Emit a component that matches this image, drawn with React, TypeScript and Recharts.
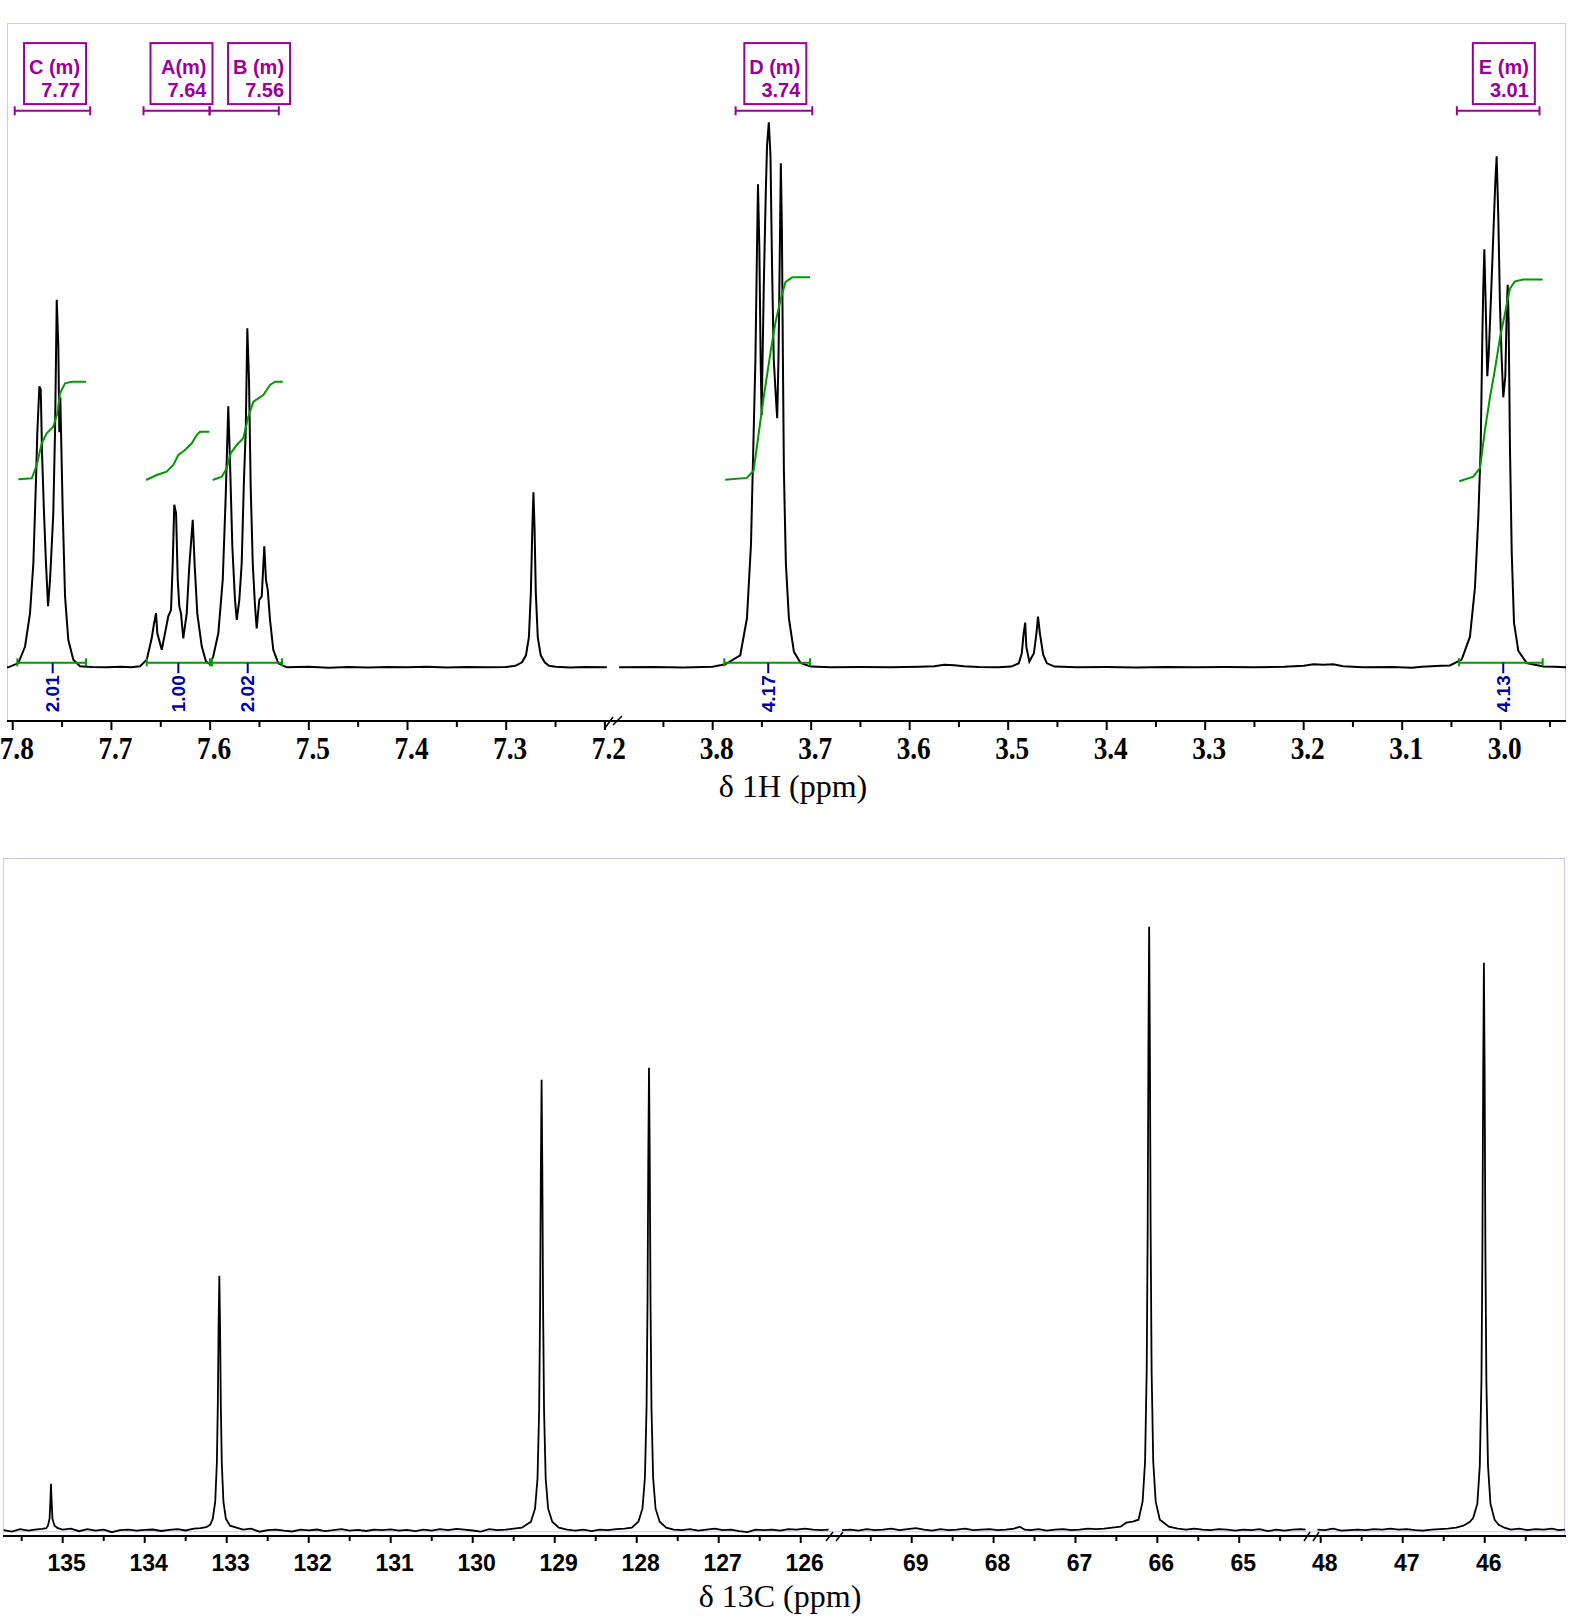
import React from "react";
import {
  LineChart,
  Line,
  XAxis,
  YAxis,
  ReferenceLine,
  ReferenceDot,
} from "recharts";

type Pt = [number, number];

// ---------- 1H spectrum (ppm, intensity a.u.) ----------
const H1_AROMATIC: Pt[] = [
  [7.8058, 0], [7.8045, 0], [7.7943, 4.2], [7.7875, 20.8], [7.7825, 54], [7.7791, 104],
  [7.7764, 187.5], [7.7751, 234], [7.773, 281], [7.7716, 277.5], [7.7703, 214], [7.7683, 154],
  [7.7663, 104], [7.7642, 61], [7.7622, 87.5], [7.7605, 121], [7.7589, 154], [7.7571, 237],
  [7.7554, 367.5], [7.7538, 321], [7.7528, 235], [7.7518, 270], [7.7493, 154], [7.747, 71],
  [7.7437, 27.5], [7.7386, 7.5], [7.7318, 1], [7.72, 0.3], [7.705, 0], [7.69, 0.5], [7.68, 0],
  [7.671, 1], [7.6642, 7.5], [7.6592, 29], [7.6568, 44], [7.6548, 54], [7.6535, 34],
  [7.649, 17.5], [7.6457, 34], [7.6424, 51], [7.6396, 57.5], [7.6379, 104], [7.6363, 162.5],
  [7.6345, 154], [7.6328, 87.5], [7.6312, 61], [7.6295, 54], [7.6272, 29], [7.6237, 54],
  [7.6211, 101], [7.6176, 147.5], [7.6156, 101], [7.613, 54], [7.6085, 21], [7.6042, 6],
  [7.6001, 3], [7.5968, 11], [7.5917, 34], [7.5872, 87.5], [7.5842, 171], [7.5816, 261],
  [7.5798, 204], [7.5775, 121], [7.5748, 67.5], [7.573, 47.5], [7.5704, 67.5], [7.568, 104],
  [7.5657, 187.5], [7.5639, 237.5], [7.5623, 339], [7.5606, 287.5], [7.5589, 181], [7.5568, 104],
  [7.5545, 61], [7.5528, 39], [7.5502, 67.5], [7.5477, 71], [7.5451, 121], [7.5434, 87.5],
  [7.5416, 77.5], [7.5393, 47.5], [7.536, 17.5], [7.5309, 4], [7.5224, 0], [7.5, 0.5],
  [7.48, -0.5], [7.46, 0.3], [7.44, -0.3], [7.42, 0.4], [7.4, 0], [7.38, 0.6], [7.36, -0.2],
  [7.34, 0.3], [7.32, 0], [7.3, 0.4], [7.2907, 1.5], [7.284, 5], [7.28, 12], [7.277, 30],
  [7.275, 75], [7.2735, 140], [7.2724, 175], [7.2713, 140], [7.27, 75], [7.268, 30], [7.265, 12],
  [7.261, 5], [7.2567, 1.5], [7.25, 0.5], [7.235, -0.3], [7.22, 0.3], [7.198, 0],
];

const H1_ALIPHATIC: Pt[] = [
  [3.895, 0], [3.86, 0.3], [3.83, -0.2], [3.8, 0.5], [3.7873, 3], [3.772, 12], [3.7652, 49],
  [3.7611, 123], [3.7584, 234], [3.7566, 308], [3.755, 419], [3.754, 483], [3.7526, 419],
  [3.7513, 308], [3.7503, 252], [3.7481, 382], [3.7461, 474], [3.7448, 522], [3.743, 545],
  [3.7413, 511], [3.7397, 400], [3.738, 308], [3.7359, 271], [3.7345, 249], [3.7332, 308],
  [3.7318, 419], [3.7308, 504], [3.7297, 437], [3.7287, 308], [3.7277, 197], [3.7257, 104],
  [3.7226, 49], [3.7175, 15.5], [3.7107, 4.4], [3.7005, 0.7], [3.68, 0], [3.65, 0.3], [3.62, 0],
  [3.59, 0.5], [3.575, 1], [3.565, 2.5], [3.555, 2], [3.545, 1], [3.53, 0.3], [3.51, 0],
  [3.4968, 0.7], [3.4892, 4], [3.4862, 14], [3.4843, 34], [3.4827, 44.7], [3.4816, 20.7],
  [3.4785, 5.7], [3.4739, 14], [3.4713, 34], [3.4697, 50.7], [3.4678, 34], [3.4644, 12.3],
  [3.4606, 4], [3.4529, 0.7], [3.43, 0], [3.4, 0.2], [3.37, -0.2], [3.34, 0.3], [3.31, 0],
  [3.28, 0.2], [3.25, 0], [3.22, 0.5], [3.2, 1.5], [3.19, 3], [3.18, 2.5], [3.17, 3], [3.16, 1],
  [3.14, 0], [3.11, 0.3], [3.09, -0.5], [3.08, 0.5], [3.07, 1], [3.06, 1.5], [3.0515, 1.8],
  [3.0396, 7.7], [3.0312, 30.6], [3.0261, 80], [3.0227, 150], [3.0203, 220.6], [3.0187, 326],
  [3.0177, 379], [3.0166, 418], [3.0152, 361], [3.0136, 291], [3.0122, 312], [3.0109, 344],
  [3.0095, 379], [3.0075, 432], [3.0055, 484.5], [3.0041, 511], [3.0024, 449], [3.0007, 361],
  [2.999, 308.6], [2.9974, 270], [2.9953, 291], [2.9939, 354], [2.9929, 382.5], [2.9919, 344],
  [2.9906, 220.6], [2.9888, 115], [2.9865, 44.7], [2.9821, 16.5], [2.9736, 4.2], [2.9567, 0.7],
  [2.945, 0.5], [2.9337, 0],
];

// integral curves
const INT_C: Pt[] = [
  [7.7943, 188], [7.7807, 189], [7.7757, 202], [7.7706, 224], [7.7656, 234], [7.7589, 240.6],
  [7.7548, 254], [7.7521, 274], [7.747, 284], [7.7402, 285.6], [7.7257, 285.6],
];
const INT_A: Pt[] = [
  [7.6649, 187.3], [7.6541, 192.3], [7.644, 195.6], [7.6373, 202.3], [7.6322, 212.3],
  [7.6254, 217.3], [7.6186, 224], [7.6136, 232.3], [7.6102, 235.6], [7.6008, 235.6],
];
const INT_B: Pt[] = [
  [7.5974, 187.3], [7.5882, 190.6], [7.5832, 199], [7.5791, 214], [7.573, 222.3], [7.5664, 229],
  [7.5613, 250.6], [7.5562, 265.6], [7.5461, 272.3], [7.5393, 282.3], [7.5342, 285.6], [7.5264, 285.6],
];
const INT_D: Pt[] = [
  [3.7873, 187.6], [3.7652, 189.4], [3.7584, 196.8], [3.7533, 233.8], [3.7481, 270.8],
  [3.7413, 315], [3.7362, 345], [3.7312, 367], [3.726, 385.5], [3.7192, 390], [3.7012, 390],
];
const INT_E: Pt[] = [
  [3.042, 186], [3.0278, 190.7], [3.021, 199.5], [3.0159, 238], [3.0109, 270], [3.0058, 298],
  [3.0007, 329.7], [2.9956, 354], [2.9906, 379], [2.9855, 386], [2.977, 387.8], [2.9574, 387.8],
];

type Multiplet = { label: string; shift: string; center: number; from: number; to: number };
const MULTIPLETS_AROMATIC: Multiplet[] = [
  { label: "C (m)", shift: "7.77", center: 7.7571, from: 7.798, to: 7.7215 },
  { label: "A(m)", shift: "7.64", center: 7.629, from: 7.6675, to: 7.6005 },
  { label: "B (m)", shift: "7.56", center: 7.5504, from: 7.6005, to: 7.5304 },
];
const MULTIPLETS_ALIPHATIC: Multiplet[] = [
  { label: "D (m)", shift: "3.74", center: 3.7364, from: 3.7767, to: 3.6989 },
  { label: "E (m)", shift: "3.01", center: 2.9968, from: 3.0445, to: 2.9606 },
];

type Integral = { value: string; center: number; from: number; to: number };
const INTEGRALS_AROMATIC: Integral[] = [
  { value: "2.01", center: 7.7595, from: 7.7953, to: 7.7258 },
  { value: "1.00", center: 7.6322, from: 7.6642, to: 7.6001 },
  { value: "2.02", center: 7.5619, from: 7.5981, to: 7.5272 },
];
const INTEGRALS_ALIPHATIC: Integral[] = [
  { value: "4.17", center: 3.7436, from: 3.7882, to: 3.7012 },
  { value: "4.13", center: 2.9974, from: 3.0422, to: 2.9574 },
];

const H1_TICKS_L = [7.8, 7.75, 7.7, 7.65, 7.6, 7.55, 7.5, 7.45, 7.4, 7.35, 7.3, 7.25, 7.2];
const H1_MAJOR_L = [7.8, 7.7, 7.6, 7.5, 7.4, 7.3, 7.2];
const H1_TICKS_R = [3.85, 3.8, 3.75, 3.7, 3.65, 3.6, 3.55, 3.5, 3.45, 3.4, 3.35, 3.3, 3.25, 3.2, 3.15, 3.1, 3.05, 3.0, 2.95];
const H1_MAJOR_R = [3.8, 3.7, 3.6, 3.5, 3.4, 3.3, 3.2, 3.1, 3.0];

// ---------- 13C spectrum ----------
const C13_AROMATIC: Pt[] = [
  [135.72, 0.5], [135.62, -1], [135.52, 1.5], [135.42, 0], [135.34, 1], [135.25, 1.8],
  [135.2, 2.5], [135.18, 5], [135.16, 12], [135.15, 30], [135.143, 47], [135.135, 30],
  [135.125, 12], [135.1, 5], [135.06, 2.5], [135.0, 1], [134.9, 2], [134.8, -0.5], [134.7, 1.5],
  [134.6, 0], [134.5, 1], [134.4, -1.5], [134.3, 0.5], [134.2, 1], [134.1, 0], [134.0, 0.8],
  [133.9, 1.2], [133.8, -0.3], [133.7, 0.8], [133.6, 1.5], [133.5, 0.2], [133.4, 2], [133.32, 2.5],
  [133.25, 3.5], [133.2, 6], [133.17, 12], [133.14, 29], [133.12, 68], [133.108, 127],
  [133.099, 204], [133.09, 255], [133.081, 204], [133.072, 127], [133.06, 68], [133.04, 29],
  [133.01, 12], [132.96, 5], [132.88, 3], [132.8, 1], [132.7, 2], [132.6, -1], [132.5, 0.5],
  [132.4, 1], [132.3, 0], [132.2, -0.8], [132.1, 1], [132.0, 0.3], [131.9, 1.2], [131.8, -0.5],
  [131.7, 0.5], [131.6, 1.5], [131.5, 0], [131.4, 0.8], [131.3, -0.3], [131.2, 1], [131.1, 0.5],
  [131.0, 1.3], [130.9, 0], [130.8, 0.8], [130.7, -0.5], [130.6, 1], [130.5, 0], [130.4, 1.5],
  [130.3, 0.5], [130.2, 1.8], [130.1, 1], [130.0, 0.2], [129.9, -1], [129.8, 1.5], [129.7, 0.5],
  [129.6, 1], [129.5, 2], [129.4, 3], [129.29, 9], [129.24, 22], [129.21, 52], [129.19, 120],
  [129.178, 225], [129.169, 361], [129.16, 451], [129.151, 361], [129.142, 225], [129.13, 120],
  [129.11, 52], [129.08, 22], [129.03, 9], [128.95, 3], [128.85, 1], [128.75, 0], [128.65, 1],
  [128.55, -0.5], [128.45, 1], [128.35, 0.5], [128.25, 1.5], [128.15, 2], [128.06, 3],
  [127.98, 9], [127.93, 22], [127.9, 53], [127.88, 123], [127.868, 231], [127.859, 370],
  [127.85, 463], [127.841, 370], [127.832, 231], [127.82, 123], [127.8, 53], [127.77, 22],
  [127.72, 9], [127.64, 3], [127.55, 1], [127.45, 0.5], [127.35, 1.5], [127.25, 0], [127.15, 1],
  [127.05, 2], [126.95, 0.5], [126.85, 1], [126.75, -0.5], [126.65, -1.5], [126.55, 1],
  [126.45, 0.5], [126.35, 1], [126.25, 0], [126.15, 1.5], [126.05, 1], [125.95, 2], [125.85, 1],
  [125.75, 0.5], [125.66, 1],
];

const C13_MID: Pt[] = [
  [69.85, 0.5], [69.75, 1], [69.65, 0], [69.55, 1.5], [69.45, 0.5], [69.35, 1], [69.25, 2],
  [69.15, 0.5], [69.05, 1.5], [68.95, 2.5], [68.85, 1], [68.75, 0], [68.65, 1.5], [68.55, 0.5],
  [68.45, 1], [68.35, 2], [68.25, 0.5], [68.15, 1], [68.05, 1.5], [67.95, 0.5], [67.85, 1],
  [67.75, 2], [67.68, 4], [67.62, 1], [67.55, 0.5], [67.45, 1.5], [67.35, 0], [67.25, 1],
  [67.15, 1.5], [67.05, 0.5], [66.95, 1], [66.85, 2], [66.75, 1.5], [66.65, 2], [66.55, 3],
  [66.45, 4], [66.38, 8], [66.3, 9], [66.23, 11], [66.18, 29], [66.15, 69], [66.13, 160],
  [66.118, 302], [66.109, 483], [66.1, 604], [66.091, 483], [66.082, 302], [66.07, 160],
  [66.05, 69], [66.02, 29], [65.97, 11], [65.92, 8], [65.86, 4], [65.75, 2], [65.65, 1],
  [65.55, 2], [65.45, 1], [65.35, 0.5], [65.25, 1.5], [65.15, 1], [65.05, 0], [64.95, 1],
  [64.85, 0.5], [64.75, 1.5], [64.65, -0.5], [64.55, 1], [64.45, 0], [64.35, 1], [64.25, 1.5],
  [64.19, 1],
];

const C13_HIGHFIELD: Pt[] = [
  [48.04, 1], [47.95, 0.5], [47.85, 2], [47.75, 0], [47.65, 0.5], [47.55, 1], [47.45, 0.5],
  [47.35, 1.5], [47.25, 1], [47.15, 2], [47.05, 1], [46.95, 1.5], [46.85, 0.5], [46.75, 0],
  [46.65, 1], [46.55, 1.5], [46.45, 2], [46.35, 3], [46.26, 5], [46.18, 9], [46.14, 13],
  [46.09, 27], [46.06, 65], [46.04, 150], [46.028, 284], [46.019, 454], [46.01, 568],
  [46.001, 454], [45.992, 284], [45.98, 150], [45.96, 65], [45.93, 27], [45.88, 11], [45.83, 6],
  [45.76, 3], [45.68, 1], [45.58, 2], [45.48, 0.5], [45.38, 1.5], [45.28, 1], [45.18, 2],
  [45.1, 0.5], [45.02, 1],
];

const C13_TICKS_1 = [135.5, 135, 134.5, 134, 133.5, 133, 132.5, 132, 131.5, 131, 130.5, 130, 129.5, 129, 128.5, 128, 127.5, 127, 126.5, 126];
const C13_MAJOR_1 = [135, 134, 133, 132, 131, 130, 129, 128, 127, 126];
const C13_TICKS_2 = [69.5, 69, 68.5, 68, 67.5, 67, 66.5, 66, 65.5, 65, 64.5];
const C13_MAJOR_2 = [69, 68, 67, 66, 65];
const C13_TICKS_3 = [48, 47.5, 47, 46.5, 46, 45.5];
const C13_MAJOR_3 = [48, 47, 46];

const PURPLE = "#990099";
const GREEN = "#009900";
const NAVY = "#0000a0";
const FRAME = "#c8c8f0";

function AxisTick(props: any) {
  const { x, y, payload, majors, kind } = props;
  const major = majors.includes(payload.value);
  if (kind === "h1") {
    return (
      <g>
        <line x1={x} x2={x} y1={y} y2={y + (major ? 9 : 6)} stroke="#000" strokeWidth={2} />
        {major && (
          <text
            transform={`translate(${x + 4},${y + 38}) scale(0.88,1)`}
            textAnchor="middle"
            fontFamily="'Liberation Serif', 'Times New Roman', serif"
            fontWeight="bold"
            fontSize={31}
            fill="#000"
          >
            {payload.value.toFixed(1)}
          </text>
        )}
      </g>
    );
  }
  return (
    <g>
      <line x1={x} x2={x} y1={y} y2={y + (major ? 7 : 5)} stroke="#000" strokeWidth={2} />
      {major && (
        <text
          x={x + 4}
          y={y + 35}
          textAnchor="middle"
          fontFamily="'Liberation Sans', Arial, sans-serif"
          fontWeight="bold"
          fontSize={23}
          fill="#000"
        >
          {String(payload.value)}
        </text>
      )}
    </g>
  );
}

const boxShape = (m: Multiplet) => (p: any) => (
  <g>
    <rect x={p.cx - 31} y={p.cy - 30.5} width={62} height={61} fill="none" stroke={PURPLE} strokeWidth={2} />
    <text x={p.cx + 25} y={p.cy + 0.5} textAnchor="end" fontFamily="'Liberation Sans', Arial, sans-serif" fontWeight="bold" fontSize={20} fill={PURPLE}>
      {m.label}
    </text>
    <text x={p.cx + 25} y={p.cy + 23.5} textAnchor="end" fontFamily="'Liberation Sans', Arial, sans-serif" fontWeight="bold" fontSize={20} fill={PURPLE}>
      {m.shift}
    </text>
  </g>
);

const integralLabel = (it: Integral) => (p: any) => (
  <text
    transform={`translate(${p.cx},${p.cy}) rotate(-90)`}
    textAnchor="end"
    dominantBaseline="central"
    fontFamily="'Liberation Sans', Arial, sans-serif"
    fontWeight="bold"
    fontSize={19}
    fill={NAVY}
  >
    {it.value}
  </text>
);

interface SegProps {
  left: number;
  top: number;
  width: number;
  plotHeight: number;
  domain: [number, number];
  yDomain: [number, number];
  ticks: number[];
  majors: number[];
  kind: "h1" | "c13";
  lines: { data: Pt[]; color: string; width: number }[];
  multiplets?: Multiplet[];
  integrals?: Integral[];
  zeroLine?: boolean;
}

function Segment(s: SegProps) {
  const refs: React.ReactNode[] = [];
  (s.multiplets || []).forEach((m, i) => {
    refs.push(
      <ReferenceLine key={`b${i}`} segment={[{ x: m.from, y: 556.6 }, { x: m.to, y: 556.6 }]} stroke={PURPLE} strokeWidth={2} />,
      <ReferenceLine key={`bl${i}`} segment={[{ x: m.from, y: 561 }, { x: m.from, y: 552 }]} stroke={PURPLE} strokeWidth={2} />,
      <ReferenceLine key={`br${i}`} segment={[{ x: m.to, y: 561 }, { x: m.to, y: 552 }]} stroke={PURPLE} strokeWidth={2} />,
      <ReferenceDot key={`bx${i}`} x={m.center} y={593.7} r={1} shape={boxShape(m)} />
    );
  });
  (s.integrals || []).forEach((it, i) => {
    refs.push(
      <ReferenceLine key={`g${i}`} segment={[{ x: it.from, y: 4.6 }, { x: it.to, y: 4.6 }]} stroke={GREEN} strokeWidth={2} />,
      <ReferenceLine key={`gl${i}`} segment={[{ x: it.from, y: 9 }, { x: it.from, y: 1 }]} stroke={GREEN} strokeWidth={2} />,
      <ReferenceLine key={`gr${i}`} segment={[{ x: it.to, y: 9 }, { x: it.to, y: 1 }]} stroke={GREEN} strokeWidth={2} />,
      <ReferenceLine key={`gc${i}`} segment={[{ x: it.center, y: 4.6 }, { x: it.center, y: -6 }]} stroke={NAVY} strokeWidth={2} />,
      <ReferenceDot key={`gt${i}`} x={it.center} y={-8} r={1} shape={integralLabel(it)} />
    );
  });
  return (
    <div style={{ position: "absolute", left: s.left, top: s.top }}>
      <LineChart width={s.width} height={s.plotHeight + 60} margin={{ top: 0, right: 0, bottom: 0, left: 0 }}>
        <XAxis
          dataKey="ppm"
          type="number"
          domain={s.domain}
          reversed
          allowDataOverflow
          ticks={s.ticks}
          interval={0}
          height={60}
          tickSize={0}
          tickMargin={0}
          tickLine={false}
          axisLine={{ stroke: "#000", strokeWidth: 2 }}
          tick={(p: any) => <AxisTick {...p} majors={s.majors} kind={s.kind} />}
        />
        <YAxis hide type="number" domain={s.yDomain} allowDataOverflow />
        {s.zeroLine && <ReferenceLine y={-1} stroke={FRAME} strokeWidth={1} />}
        {s.lines.map((l, i) => (
          <Line
            key={i}
            data={l.data.map(([ppm, h]) => ({ ppm, h }))}
            dataKey="h"
            type="linear"
            stroke={l.color}
            strokeWidth={l.width}
            dot={false}
            activeDot={false}
            isAnimationActive={false}
          />
        ))}
        {refs}
      </LineChart>
    </div>
  );
}

export default function App() {
  const serif = "'Liberation Serif', 'Times New Roman', serif";
  return (
    <div style={{ position: "relative", width: 1590, height: 1618, background: "#fff", overflow: "hidden" }}>
      <style>{"body{margin:0} .recharts-surface{overflow:visible}"}</style>

      {/* frames */}
      <div style={{ position: "absolute", left: 7, top: 23, width: 1559, height: 698, borderTop: `1px solid ${FRAME}`, borderLeft: `1px solid ${FRAME}`, borderRight: `1px solid ${FRAME}`, boxSizing: "border-box" }} />
      <div style={{ position: "absolute", left: 3, top: 858, width: 1562, height: 678, borderTop: `1px solid ${FRAME}`, borderLeft: `1px solid ${FRAME}`, borderRight: `1px solid ${FRAME}`, boxSizing: "border-box" }} />

      {/* 1H */}
      <Segment
        left={7} top={23} width={605} plotHeight={698}
        domain={[7.1928, 7.8058]} yDomain={[-53.7, 644.3]}
        ticks={H1_TICKS_L} majors={H1_MAJOR_L} kind="h1"
        lines={[
          { data: H1_AROMATIC, color: "#000", width: 2 },
          { data: INT_C, color: GREEN, width: 2 },
          { data: INT_A, color: GREEN, width: 2 },
          { data: INT_B, color: GREEN, width: 2 },
        ]}
        multiplets={MULTIPLETS_AROMATIC}
        integrals={INTEGRALS_AROMATIC}
      />
      <Segment
        left={612} top={23} width={954} plotHeight={698}
        domain={[2.9337, 3.9022]} yDomain={[-53.7, 644.3]}
        ticks={H1_TICKS_R} majors={H1_MAJOR_R} kind="h1"
        lines={[
          { data: H1_ALIPHATIC, color: "#000", width: 2 },
          { data: INT_D, color: GREEN, width: 2 },
          { data: INT_E, color: GREEN, width: 2 },
        ]}
        multiplets={MULTIPLETS_ALIPHATIC}
        integrals={INTEGRALS_ALIPHATIC}
      />

      {/* 13C */}
      <Segment
        left={3} top={858} width={832} plotHeight={678}
        domain={[125.582, 135.728]} yDomain={[-5.3, 672.7]}
        ticks={C13_TICKS_1} majors={C13_MAJOR_1} kind="c13" zeroLine
        lines={[{ data: C13_AROMATIC, color: "#000", width: 1.8 }]}
      />
      <Segment
        left={835} top={858} width={477} plotHeight={678}
        domain={[64.111, 69.937]} yDomain={[-5.3, 672.7]}
        ticks={C13_TICKS_2} majors={C13_MAJOR_2} kind="c13" zeroLine
        lines={[{ data: C13_MID, color: "#000", width: 1.8 }]}
      />
      <Segment
        left={1312} top={858} width={254} plotHeight={678}
        domain={[45.009, 48.106]} yDomain={[-5.3, 672.7]}
        ticks={C13_TICKS_3} majors={C13_MAJOR_3} kind="c13" zeroLine
        lines={[{ data: C13_HIGHFIELD, color: "#000", width: 1.8 }]}
      />

      {/* axis breaks and titles */}
      <svg width={1590} height={1618} style={{ position: "absolute", left: 0, top: 0, pointerEvents: "none" }}>
        <line x1={605} y1={728} x2={613} y2={717} stroke="#000" strokeWidth={1.5} />
        <line x1={613} y1={725} x2={622} y2={716} stroke="#000" strokeWidth={1.5} />
        <line x1={826} y1={1541} x2={833} y2={1532} stroke="#000" strokeWidth={1.5} />
        <line x1={836} y1={1541} x2={843} y2={1532} stroke="#000" strokeWidth={1.5} />
        <line x1={1304} y1={1541} x2={1310} y2={1532} stroke="#000" strokeWidth={1.5} />
        <line x1={1313} y1={1541} x2={1319} y2={1532} stroke="#000" strokeWidth={1.5} />
        <text x={793} y={797} textAnchor="middle" fontFamily={serif} fontSize={32} fill="#000">
          δ 1H (ppm)
        </text>
        <text x={780} y={1607} textAnchor="middle" fontFamily={serif} fontSize={32} fill="#000">
          δ 13C (ppm)
        </text>
      </svg>
    </div>
  );
}
